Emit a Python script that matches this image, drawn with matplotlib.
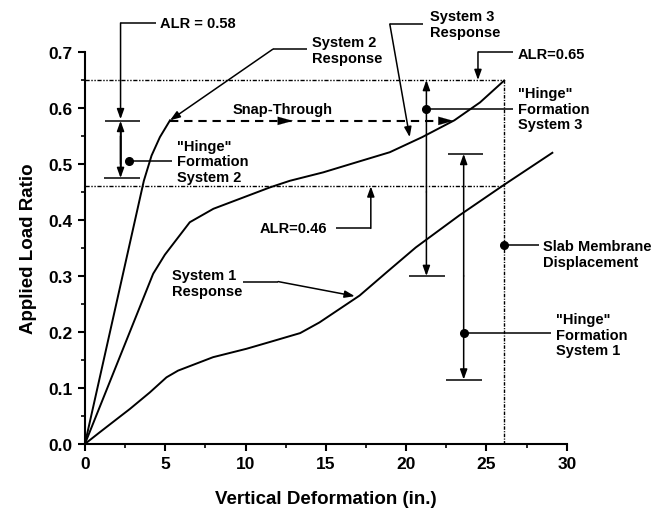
import matplotlib
matplotlib.use("Agg")
import matplotlib.pyplot as plt
from matplotlib.ticker import MultipleLocator

plt.rcParams['font.family'] = ['Liberation Sans', 'DejaVu Sans']
plt.rcParams['font.weight'] = 'bold'

# ---- data ----
sys1_x = [0, 0.93, 2.28, 2.8, 4.04, 5.08, 5.8, 7.98, 10.06, 11.5, 13.4, 14.6, 17.1, 18.8, 20.6, 23.3, 26.0, 29.1]
sys1_y = [0, 0.021, 0.051, 0.0625, 0.092, 0.119, 0.131, 0.155, 0.170, 0.182, 0.198, 0.217, 0.265, 0.307, 0.351, 0.408, 0.461, 0.520]

sys2_x = [0, 3.67, 4.15, 4.67, 5.3]
sys2_y = [0, 0.470, 0.515, 0.548, 0.578]

sys3_x = [0, 4.25, 4.98, 6.53, 8.0, 11.5, 12.76, 14.83, 16.9, 18.98, 21.0, 23.0, 24.6, 26.1]
sys3_y = [0, 0.304, 0.338, 0.396, 0.420, 0.458, 0.470, 0.485, 0.503, 0.521, 0.548, 0.578, 0.610, 0.649]

alr_levels = [0.65, 0.46]
snap_alr = 0.577
slab_disp = 26.1

x_ticks = [0, 5, 10, 15, 20, 25, 30]
y_ticks = [0.0, 0.1, 0.2, 0.3, 0.4, 0.5, 0.6, 0.7]

fig = plt.figure(figsize=(6.53, 5.10), dpi=100)
ax = fig.add_axes([0.130, 0.1275, 0.738, 0.7686])

K = 'black'
LW = 1.4
ax.plot(sys1_x, sys1_y, color=K, lw=LW, clip_on=False)
ax.plot(sys2_x, sys2_y, color=K, lw=LW, clip_on=False)
ax.plot(sys3_x, sys3_y, color=K, lw=LW, clip_on=False)

# reference lines
for lev in alr_levels:
    ln, = ax.plot([0, slab_disp], [lev, lev], color=K, lw=1.0)
    ln.set_dashes([3, 1.2, 1, 1.2, 1, 1.2])
vl, = ax.plot([slab_disp, slab_disp], [0, alr_levels[0]], color=K, lw=1.0)
vl.set_dashes([2.5, 1, 0.8, 1])

# snap-through dashed
sl, = ax.plot([sys2_x[-1], 22.9], [snap_alr, snap_alr], color=K, lw=1.5)
sl.set_dashes([4, 2.8])

AS = dict(arrowstyle='-|>,head_length=0.5,head_width=0.18', color=K, lw=1.1,
          shrinkA=0, shrinkB=0, mutation_scale=12)
BIG = dict(arrowstyle='-|>,head_length=0.9,head_width=0.25', color=K, lw=0.1,
           shrinkA=0, shrinkB=0, mutation_scale=12)

def arrow(p_from, p_to, style=AS):
    ax.annotate('', xy=p_to, xytext=p_from, arrowprops=style, annotation_clip=False)

def line(xs, ys, lw=1.1):
    ax.plot(xs, ys, color=K, lw=lw, clip_on=False, solid_capstyle='butt')

def dot(x, y):
    ax.plot([x], [y], 'o', color=K, ms=5.5, clip_on=False)

FS = 10.5
def txt(x, y, s, ha='left'):
    ax.text(x, y, s, fontsize=FS, fontweight='bold', ha=ha, va='center', linespacing=1.15)

# snap-through arrow heads
arrow((12.1, snap_alr), (12.95, snap_alr), BIG)
arrow((22.1, snap_alr), (22.95, snap_alr), BIG)
txt(9.2, 0.598, 'Snap-Through')

# ALR = 0.58
txt(4.67, 0.752, 'ALR = 0.58')
line([4.4, 2.22], [0.752, 0.752])
arrow((2.22, 0.752), (2.22, 0.580))
line([1.24, 3.45], [0.577, 0.577])
line([1.2, 3.4], [0.475, 0.475])
arrow((2.22, 0.5), (2.22, 0.577))
arrow((2.22, 0.55), (2.22, 0.475))
line([2.22, 2.22], [0.49, 0.56])
dot(2.74, 0.506)
line([2.74, 5.41], [0.506, 0.506])
txt(5.72, 0.505, '"Hinge"\nFormation\nSystem 2')

# System 2 response
txt(14.13, 0.703, 'System 2\nResponse')
line([13.8, 11.7], [0.705, 0.705])
arrow((11.7, 0.705), (5.3, 0.578))

# System 3 response
txt(21.47, 0.750, 'System 3\nResponse')
line([21.05, 18.98], [0.75, 0.75])
arrow((18.98, 0.75), (20.22, 0.548))

# ALR = 0.65
txt(26.95, 0.697, 'ALR=0.65')
line([26.63, 24.47], [0.70, 0.70])
arrow((24.47, 0.70), (24.47, 0.65))

# Hinge formation system 3
line([20.2, 22.4], [0.30, 0.30])
arrow((21.26, 0.45), (21.26, 0.65))
arrow((21.26, 0.45), (21.26, 0.30))
dot(21.26, 0.598)
line([21.26, 26.63], [0.598, 0.598])
txt(26.95, 0.599, '"Hinge"\nFormation\nSystem 3')

# Hinge formation system 1
line([22.6, 24.8], [0.518, 0.518])
line([22.45, 24.7], [0.115, 0.115])
arrow((23.58, 0.3), (23.58, 0.518))
arrow((23.58, 0.3), (23.58, 0.115))
dot(23.58, 0.198)
line([23.58, 29.04], [0.198, 0.198])
txt(29.3, 0.195, '"Hinge"\nFormation\nSystem 1')

# Slab membrane displacement
dot(slab_disp, 0.355)
line([slab_disp, 28.3], [0.355, 0.355])
txt(28.5, 0.339, 'Slab Membrane\nDisplacement')

# ALR = 0.46
txt(10.9, 0.385, 'ALR=0.46')
line([15.66, 17.8], [0.385, 0.385])
arrow((17.8, 0.385), (17.8, 0.46))

# System 1 response
txt(5.4, 0.288, 'System 1\nResponse')
line([9.85, 12.03], [0.29, 0.29])
arrow((12.03, 0.29), (16.8, 0.264))

# axes styling
ax.set_xlim(0, 30)
ax.set_ylim(0, 0.7)
ax.set_xticks(x_ticks)
ax.set_yticks(y_ticks)
ax.set_xticklabels([str(v) for v in x_ticks])
ax.set_yticklabels([f'{v:.1f}' for v in y_ticks])
ax.xaxis.set_minor_locator(MultipleLocator(2.5))
ax.yaxis.set_minor_locator(MultipleLocator(0.05))
for s in ['top', 'right']:
    ax.spines[s].set_visible(False)
for s in ['left', 'bottom']:
    ax.spines[s].set_linewidth(1.5)
ax.tick_params(which='major', direction='out', length=5, width=1.5, labelsize=12.5, pad=4)
ax.tick_params(which='minor', direction='out', length=3, width=1.2)
for lab in ax.get_xticklabels() + ax.get_yticklabels():
    lab.set_fontweight('bold')
ax.set_xlabel('Vertical Deformation (in.)', fontsize=13.5, fontweight='bold', labelpad=13)
ax.set_ylabel('Applied Load Ratio', fontsize=13.5, fontweight='bold', labelpad=8)

fig.savefig('out.png', dpi=100)
